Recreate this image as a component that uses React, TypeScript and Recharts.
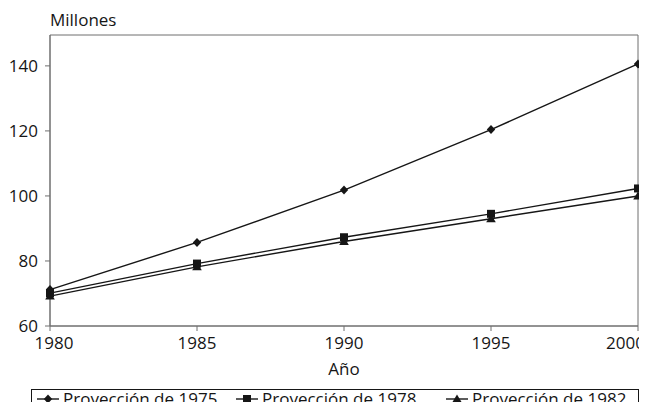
import React from "react";
import { LineChart, Line, XAxis, YAxis, Legend, ReferenceArea, Text } from "recharts";

const years = [1980, 1985, 1990, 1995, 2000];
const proj1975 = [71.2, 85.7, 101.8, 120.4, 140.6];
const proj1978 = [70.1, 79.2, 87.3, 94.5, 102.3];
const proj1982 = [69.2, 78.2, 86.0, 93.0, 100.0];
const yTicks = [60, 80, 100, 120, 140];
const seriesNames = ["Proyección de 1975", "Proyección de 1978", "Proyección de 1982"];

const data = years.map((y, i) => ({
  year: y,
  p1975: proj1975[i],
  p1978: proj1978[i],
  p1982: proj1982[i],
}));

const FONT = "'Open Sans', sans-serif";
const FS = 17;
const INK = "#161616";
const AXIS = "#6e6e6e";

type Shape = "diamond" | "square" | "triangle";

function markerPath(shape: Shape, cx: number, cy: number): string {
  if (shape === "diamond") return `M${cx},${cy - 4.5}L${cx + 4.2},${cy}L${cx},${cy + 4.5}L${cx - 4.2},${cy}Z`;
  if (shape === "square") return `M${cx - 4},${cy - 4}H${cx + 4}V${cy + 4}H${cx - 4}Z`;
  return `M${cx},${cy - 4.5}L${cx + 4.8},${cy + 3.5}L${cx - 4.8},${cy + 3.5}Z`;
}

const makeDot = (shape: Shape) => (props: any) => {
  const { cx, cy, index } = props;
  if (cx == null || cy == null) return <g key={`${shape}-${index}`} />;
  return <path key={`${shape}-${index}`} d={markerPath(shape, cx, cy)} fill={INK} stroke="none" />;
};

const shapes: Shape[] = ["diamond", "square", "triangle"];
const legendItemLeft = [4, 203, 413];

const renderLegend = () => (
  <div
    style={{
      position: "relative",
      marginLeft: 31,
      width: 608,
      height: 30,
      boxSizing: "border-box",
      border: `1px solid ${INK}`,
      fontFamily: FONT,
      fontSize: FS,
      color: INK,
      lineHeight: "18px",
    }}
  >
    {seriesNames.map((name, i) => (
      <div
        key={name}
        style={{ position: "absolute", left: legendItemLeft[i], top: 0, display: "flex", alignItems: "center", whiteSpace: "nowrap" }}
      >
        <svg width={24} height={14} style={{ marginRight: 3, display: "block" }}>
          <line x1={1} y1={7} x2={23} y2={7} stroke={INK} strokeWidth={1.4} />
          <path d={markerPath(shapes[i], 12, 7)} fill={INK} />
        </svg>
        <span>{name}</span>
      </div>
    ))}
  </div>
);

const MillonesLabel = (props: any) => {
  const vb = props.viewBox || {};
  return (
    <text x={(vb.x || 0) + (vb.width || 0)} y={(vb.y || 0) - 9} fill={INK} fontSize={FS} fontFamily={FONT} textAnchor="start">
      Millones
    </text>
  );
};

const XTick = (props: any) => {
  const { x, y, payload, index } = props;
  const last = payload.value === years[years.length - 1];
  const first = index === 0;
  return (
    <Text
      x={last ? 645 : first ? x + 4 : x}
      y={y}
      textAnchor={last ? "end" : "middle"}
      verticalAnchor="start"
      fill={INK}
      fontSize={FS}
      fontFamily={FONT}
    >
      {String(payload.value)}
    </Text>
  );
};

export default function App() {
  return (
    <div style={{ margin: -8, width: 647, height: 410, overflow: "hidden", position: "relative", background: "#fff" }}>
      <LineChart
        width={647}
        height={410}
        data={data}
        margin={{ top: 35, right: 9, bottom: 0, left: 0 }}
        style={{ fontFamily: FONT }}
      >
        <XAxis
          dataKey="year"
          type="number"
          domain={[1980, 2000]}
          ticks={years}
          height={63}
          tickSize={5}
          tickMargin={6}
          stroke={AXIS}
          tick={<XTick />}
          label={{ value: "Año", position: "insideBottom", offset: 14, fill: INK, fontSize: FS, fontFamily: FONT }}
        />
        <YAxis
          type="number"
          domain={[60, 149.5]}
          ticks={yTicks}
          width={50}
          tickSize={5}
          tickMargin={7}
          stroke={AXIS}
          tick={{ fill: INK, fontSize: FS, fontFamily: FONT }}
          label={<MillonesLabel />}
        />
        <ReferenceArea x1={1980} x2={2000} y1={60} y2={149.5} stroke={AXIS} strokeWidth={1} fill="none" ifOverflow="visible" />
        <Legend
          verticalAlign="bottom"
          height={21}
          content={renderLegend}
          wrapperStyle={{ top: 389, bottom: "auto", left: 0, width: 647, height: 21 }}
        />
        <Line dataKey="p1975" name={seriesNames[0]} stroke={INK} strokeWidth={1.4} dot={makeDot("diamond")} activeDot={false} isAnimationActive={false} />
        <Line dataKey="p1978" name={seriesNames[1]} stroke={INK} strokeWidth={1.4} dot={makeDot("square")} activeDot={false} isAnimationActive={false} />
        <Line dataKey="p1982" name={seriesNames[2]} stroke={INK} strokeWidth={1.4} dot={makeDot("triangle")} activeDot={false} isAnimationActive={false} />
      </LineChart>
    </div>
  );
}
